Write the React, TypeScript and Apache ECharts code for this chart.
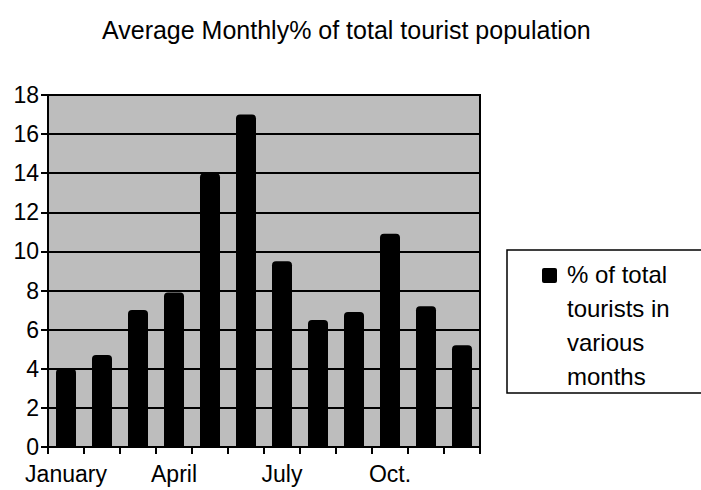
import React, { useEffect, useRef } from "react";
import * as echarts from "echarts";

const months = ["January", "February", "March", "April", "May", "June", "July", "August", "September", "Oct.", "November", "December"];
const shownLabels = ["January", "April", "July", "Oct."];
const values = [4.0, 4.7, 7.0, 7.9, 14.0, 17.0, 9.5, 6.5, 6.9, 10.9, 7.2, 5.2];
const titleText = "Average Monthly% of total tourist population";
const legendLines = ["% of total", "tourists in", "various", "months"];
const seriesName = "% of total tourists in various months";

const FONT = "'Liberation Sans', Arial, Helvetica, sans-serif";

export default function App() {
  const ref = useRef<HTMLDivElement>(null);
  useEffect(() => {
    if (!ref.current) return;
    const chart = echarts.init(ref.current, undefined, { renderer: "svg" });
    chart.setOption({
      animation: false,
      backgroundColor: "#ffffff",
      title: {
        text: titleText,
        left: 97,
        top: 12,
        textStyle: { fontFamily: FONT, fontSize: 25, fontWeight: "normal", color: "#000" },
      },
      grid: {
        left: 48,
        top: 95,
        right: 221,
        bottom: 43,
        show: true,
        backgroundColor: "#bdbdbd",
        borderColor: "#000",
        borderWidth: 2,
      },
      xAxis: {
        type: "category",
        data: months,
        boundaryGap: true,
        axisLine: { lineStyle: { color: "#000", width: 2 } },
        axisTick: { show: true, interval: 0, length: 7, inside: false, lineStyle: { color: "#000", width: 2 } },
        axisLabel: {
          interval: 0,
          margin: 15,
          color: "#000",
          fontFamily: FONT,
          fontSize: 23,
          lineHeight: 24,
          formatter: (v: string) => (shownLabels.includes(v) ? v : ""),
        },
      },
      yAxis: {
        type: "value",
        min: 0,
        max: 18,
        interval: 2,
        axisLine: { show: true, lineStyle: { color: "#000", width: 2 } },
        axisTick: { show: true, length: 7, lineStyle: { color: "#000", width: 2 } },
        axisLabel: { color: "#000", fontFamily: FONT, fontSize: 23, lineHeight: 22, margin: 9 },
        splitLine: { show: true, lineStyle: { color: "#000", width: 2 } },
      },
      series: [
        {
          name: seriesName,
          type: "bar",
          data: values,
          barWidth: 20,
          itemStyle: { color: "#000", borderRadius: [4, 4, 0, 0] },
        },
      ],
      graphic: [
        {
          type: "rect",
          shape: { x: 507, y: 250, width: 230, height: 143 },
          style: { fill: "#fff", stroke: "#000", lineWidth: 1.5 },
        },
        {
          type: "rect",
          shape: { x: 542, y: 268, width: 15, height: 15, r: 2 },
          style: { fill: "#000" },
        },
        ...legendLines.map((line, i) => ({
          type: "text",
          x: 567,
          y: 274 + i * 34,
          style: {
            text: line,
            fontFamily: FONT,
            fontSize: 24,
            fill: "#000",
            verticalAlign: "middle",
          },
        })),
      ],
    });
    return () => chart.dispose();
  }, []);
  return <div ref={ref} style={{ position: "fixed", left: 0, top: 0, width: 701, height: 490 }} />;
}
